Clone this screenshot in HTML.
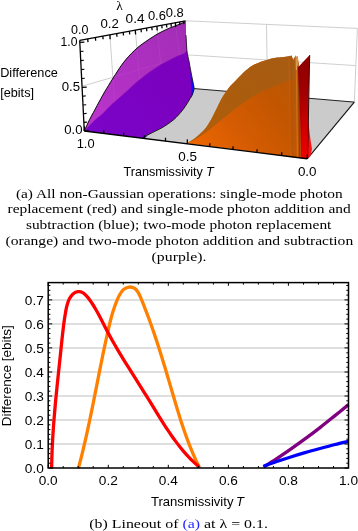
<!DOCTYPE html>
<html><head><meta charset="utf-8"><style>
html,body{margin:0;padding:0;background:#fff;}
body{width:358px;height:531px;overflow:hidden;font-family:"Liberation Sans",sans-serif;}
svg{display:block;will-change:transform;}
</style></head><body>
<svg width="358" height="531" viewBox="0 0 358 531">
<defs><linearGradient id="gOr" x1="190" y1="150" x2="300" y2="70" gradientUnits="userSpaceOnUse">
<stop offset="0" stop-color="#f06800"/><stop offset="0.35" stop-color="#d65c02"/><stop offset="0.7" stop-color="#c25600"/><stop offset="1" stop-color="#b85808"/></linearGradient><linearGradient id="gOb" x1="215" y1="125" x2="275" y2="60" gradientUnits="userSpaceOnUse">
<stop offset="0" stop-color="#ae5e0c"/><stop offset="0.5" stop-color="#aa5c0e"/><stop offset="1" stop-color="#a85c12"/></linearGradient><linearGradient id="gMag" x1="90" y1="120" x2="185" y2="30" gradientUnits="userSpaceOnUse">
<stop offset="0" stop-color="#ba34cc"/><stop offset="1" stop-color="#a32db6"/></linearGradient><linearGradient id="gVio" x1="90" y1="130" x2="190" y2="60" gradientUnits="userSpaceOnUse">
<stop offset="0" stop-color="#7a04c8"/><stop offset="1" stop-color="#7c00bc"/></linearGradient><linearGradient id="gRed" x1="0" y1="55" x2="0" y2="159" gradientUnits="userSpaceOnUse">
<stop offset="0" stop-color="#8c0000"/><stop offset="0.6" stop-color="#b00000"/><stop offset="1" stop-color="#d80000"/></linearGradient><linearGradient id="gRb" x1="0" y1="95" x2="0" y2="158" gradientUnits="userSpaceOnUse">
<stop offset="0" stop-color="#e00000" stop-opacity="0"/><stop offset="0.6" stop-color="#e00000" stop-opacity="0.7"/><stop offset="1" stop-color="#f00000" stop-opacity="0.95"/></linearGradient><clipPath id="cMag"><path d="M84.30,131.00 C84.72,130.08 85.92,127.42 86.80,125.50 C87.68,123.58 88.50,121.67 89.60,119.50 C90.70,117.33 92.13,114.85 93.40,112.50 C94.67,110.15 95.95,107.72 97.20,105.40 C98.45,103.08 99.65,100.87 100.90,98.60 C102.15,96.33 103.43,93.98 104.70,91.80 C105.97,89.62 107.32,87.45 108.50,85.50 C109.68,83.55 110.65,81.93 111.80,80.10 C112.95,78.27 114.17,76.42 115.40,74.50 C116.63,72.58 117.90,70.53 119.20,68.60 C120.50,66.67 121.60,64.97 123.20,62.90 C124.80,60.83 126.95,58.25 128.80,56.20 C130.65,54.15 132.45,52.33 134.30,50.60 C136.15,48.87 138.03,47.28 139.90,45.80 C141.77,44.32 143.48,43.10 145.50,41.70 C147.52,40.30 150.08,38.63 152.00,37.40 C153.92,36.17 154.77,35.55 157.00,34.30 C159.23,33.05 162.58,31.22 165.40,29.90 C168.22,28.58 171.35,27.43 173.90,26.40 C176.45,25.37 178.77,24.50 180.70,23.70 C182.63,22.90 184.70,21.95 185.50,21.60 L186.00,35.00 L187.00,51.00 C186.42,51.45 185.02,52.90 183.50,53.70 C181.98,54.50 179.98,54.87 177.90,55.80 C175.82,56.73 173.32,58.13 171.00,59.30 C168.68,60.47 166.33,61.52 164.00,62.80 C161.67,64.08 159.02,65.72 157.00,67.00 C154.98,68.28 153.92,69.10 151.90,70.50 C149.88,71.90 147.23,73.65 144.90,75.40 C142.57,77.15 140.22,79.03 137.90,81.00 C135.58,82.97 133.32,85.12 131.00,87.20 C128.68,89.28 126.33,91.40 124.00,93.50 C121.67,95.60 119.33,97.70 117.00,99.80 C114.67,101.90 112.37,103.83 110.00,106.10 C107.63,108.37 105.57,110.85 102.80,113.40 C100.03,115.95 96.48,118.47 93.40,121.40 C90.32,124.33 85.82,129.40 84.30,131.00 Z"/></clipPath></defs>
<rect width="358" height="531" fill="#fff"/>
<polygon points="84.3,131.0 307.2,158.8 354.3,102.1 194.3,88.6" fill="#cbcbcb"/>
<path d="M185.50,20.80 L357.40,28.40" stroke="#cfcfcf" stroke-width="1" fill="none"/>
<path d="M357.40,28.40 L354.30,102.10" stroke="#cfcfcf" stroke-width="1" fill="none"/>
<path d="M189.60,55.00 L355.90,65.60" stroke="#cfcfcf" stroke-width="1" fill="none"/>
<path d="M266.50,24.90 L267.60,95.50" stroke="#cfcfcf" stroke-width="1" fill="none"/>
<path d="M82.20,86.20 L189.60,55.00" stroke="#cfcfcf" stroke-width="1" fill="none"/>
<path d="M109.93,34.80 L115.73,118.89" stroke="#cfcfcf" stroke-width="1" fill="none"/>
<path d="M135.34,30.09 L142.15,108.70" stroke="#cfcfcf" stroke-width="1" fill="none"/>
<path d="M156.87,26.10 L164.54,100.07" stroke="#cfcfcf" stroke-width="1" fill="none"/>
<path d="M175.36,22.68 L183.76,92.66" stroke="#cfcfcf" stroke-width="1" fill="none"/>
<path d="M84.30,131.00 C84.72,130.08 85.92,127.42 86.80,125.50 C87.68,123.58 88.50,121.67 89.60,119.50 C90.70,117.33 92.13,114.85 93.40,112.50 C94.67,110.15 95.95,107.72 97.20,105.40 C98.45,103.08 99.65,100.87 100.90,98.60 C102.15,96.33 103.43,93.98 104.70,91.80 C105.97,89.62 107.32,87.45 108.50,85.50 C109.68,83.55 110.65,81.93 111.80,80.10 C112.95,78.27 114.17,76.42 115.40,74.50 C116.63,72.58 117.90,70.53 119.20,68.60 C120.50,66.67 121.60,64.97 123.20,62.90 C124.80,60.83 126.95,58.25 128.80,56.20 C130.65,54.15 132.45,52.33 134.30,50.60 C136.15,48.87 138.03,47.28 139.90,45.80 C141.77,44.32 143.48,43.10 145.50,41.70 C147.52,40.30 150.08,38.63 152.00,37.40 C153.92,36.17 154.77,35.55 157.00,34.30 C159.23,33.05 162.58,31.22 165.40,29.90 C168.22,28.58 171.35,27.43 173.90,26.40 C176.45,25.37 178.77,24.50 180.70,23.70 C182.63,22.90 184.70,21.95 185.50,21.60 L186.00,35.00 C186.17,37.67 186.50,46.67 187.00,51.00 C187.50,55.33 188.33,57.50 189.00,61.00 C189.67,64.50 190.37,68.67 191.00,72.00 C191.63,75.33 192.25,78.23 192.80,81.00 C193.35,83.77 194.05,87.33 194.30,88.60 C194.00,89.50 193.10,92.53 192.50,94.00 C191.90,95.47 191.52,95.95 190.70,97.40 C189.88,98.85 188.88,100.67 187.60,102.70 C186.32,104.73 184.53,107.55 183.00,109.60 C181.47,111.65 179.93,113.33 178.40,115.00 C176.87,116.67 175.60,118.07 173.80,119.60 C172.00,121.13 169.65,122.80 167.60,124.20 C165.55,125.60 163.53,126.85 161.50,128.00 C159.47,129.15 157.45,130.07 155.40,131.10 C153.35,132.13 151.00,133.28 149.20,134.20 C147.40,135.12 145.67,136.00 144.60,136.60 C143.53,137.20 143.10,137.60 142.80,137.80 L142.8,138.3 Z" fill="url(#gVio)"/>
<path d="M84.30,131.00 C84.72,130.08 85.92,127.42 86.80,125.50 C87.68,123.58 88.50,121.67 89.60,119.50 C90.70,117.33 92.13,114.85 93.40,112.50 C94.67,110.15 95.95,107.72 97.20,105.40 C98.45,103.08 99.65,100.87 100.90,98.60 C102.15,96.33 103.43,93.98 104.70,91.80 C105.97,89.62 107.32,87.45 108.50,85.50 C109.68,83.55 110.65,81.93 111.80,80.10 C112.95,78.27 114.17,76.42 115.40,74.50 C116.63,72.58 117.90,70.53 119.20,68.60 C120.50,66.67 121.60,64.97 123.20,62.90 C124.80,60.83 126.95,58.25 128.80,56.20 C130.65,54.15 132.45,52.33 134.30,50.60 C136.15,48.87 138.03,47.28 139.90,45.80 C141.77,44.32 143.48,43.10 145.50,41.70 C147.52,40.30 150.08,38.63 152.00,37.40 C153.92,36.17 154.77,35.55 157.00,34.30 C159.23,33.05 162.58,31.22 165.40,29.90 C168.22,28.58 171.35,27.43 173.90,26.40 C176.45,25.37 178.77,24.50 180.70,23.70 C182.63,22.90 184.70,21.95 185.50,21.60 L186.00,35.00 L187.00,51.00 C186.42,51.45 185.02,52.90 183.50,53.70 C181.98,54.50 179.98,54.87 177.90,55.80 C175.82,56.73 173.32,58.13 171.00,59.30 C168.68,60.47 166.33,61.52 164.00,62.80 C161.67,64.08 159.02,65.72 157.00,67.00 C154.98,68.28 153.92,69.10 151.90,70.50 C149.88,71.90 147.23,73.65 144.90,75.40 C142.57,77.15 140.22,79.03 137.90,81.00 C135.58,82.97 133.32,85.12 131.00,87.20 C128.68,89.28 126.33,91.40 124.00,93.50 C121.67,95.60 119.33,97.70 117.00,99.80 C114.67,101.90 112.37,103.83 110.00,106.10 C107.63,108.37 105.57,110.85 102.80,113.40 C100.03,115.95 96.48,118.47 93.40,121.40 C90.32,124.33 85.82,129.40 84.30,131.00 Z" fill="url(#gMag)"/>
<path d="M109.9,34.8 L115.7,118.9 M135.3,30.1 L142.1,108.7 M156.9,26.1 L164.5,100.1 M175.4,22.7 L183.8,92.7 M82.2,86.2 L189.6,55" stroke="#d070e0" stroke-width="0.8" fill="none" opacity="0.2" clip-path="url(#cMag)"/>
<path d="M84.30,131.00 C85.82,129.40 90.32,124.33 93.40,121.40 C96.48,118.47 100.03,115.95 102.80,113.40 C105.57,110.85 107.63,108.37 110.00,106.10 C112.37,103.83 114.67,101.90 117.00,99.80 C119.33,97.70 121.67,95.60 124.00,93.50 C126.33,91.40 128.68,89.28 131.00,87.20 C133.32,85.12 135.58,82.97 137.90,81.00 C140.22,79.03 142.57,77.15 144.90,75.40 C147.23,73.65 149.88,71.90 151.90,70.50 C153.92,69.10 154.98,68.28 157.00,67.00 C159.02,65.72 161.67,64.08 164.00,62.80 C166.33,61.52 168.68,60.47 171.00,59.30 C173.32,58.13 175.82,56.73 177.90,55.80 C179.98,54.87 181.98,54.50 183.50,53.70 C185.02,52.90 186.42,51.45 187.00,51.00" stroke="#9a18b4" stroke-width="0.7" fill="none" opacity="0.7"/>
<path d="M190.4,73 C192.4,80 193.8,85 194.3,88.6 C193.6,92 192.8,95 191.2,98 C191.6,93 191.4,89 191.1,85 C190.8,81 190.6,77 190.4,73 Z" fill="#1010ff"/>
<path d="M186.00,35.00 C186.17,37.67 186.50,46.67 187.00,51.00 C187.50,55.33 188.33,57.50 189.00,61.00 C189.67,64.50 190.37,68.67 191.00,72.00 C191.63,75.33 192.25,78.23 192.80,81.00 C193.35,83.77 194.05,87.33 194.30,88.60" stroke="#111" stroke-width="0.8" fill="none"/>
<path d="M142.5,138 L146.5,136" stroke="#1818ff" stroke-width="1.4" fill="none"/>
<path d="M84.30,131.00 C84.72,130.08 85.92,127.42 86.80,125.50 C87.68,123.58 88.50,121.67 89.60,119.50 C90.70,117.33 92.13,114.85 93.40,112.50 C94.67,110.15 95.95,107.72 97.20,105.40 C98.45,103.08 99.65,100.87 100.90,98.60 C102.15,96.33 103.43,93.98 104.70,91.80 C105.97,89.62 107.32,87.45 108.50,85.50 C109.68,83.55 110.65,81.93 111.80,80.10 C112.95,78.27 114.17,76.42 115.40,74.50 C116.63,72.58 117.90,70.53 119.20,68.60 C120.50,66.67 121.60,64.97 123.20,62.90 C124.80,60.83 126.95,58.25 128.80,56.20 C130.65,54.15 132.45,52.33 134.30,50.60 C136.15,48.87 138.03,47.28 139.90,45.80 C141.77,44.32 143.48,43.10 145.50,41.70 C147.52,40.30 150.08,38.63 152.00,37.40 C153.92,36.17 154.77,35.55 157.00,34.30 C159.23,33.05 162.58,31.22 165.40,29.90 C168.22,28.58 171.35,27.43 173.90,26.40 C176.45,25.37 178.77,24.50 180.70,23.70 C182.63,22.90 184.70,21.95 185.50,21.60" stroke="#111" stroke-width="1" fill="none"/>
<path d="M194.30,88.60 C194.00,89.50 193.10,92.53 192.50,94.00 C191.90,95.47 191.52,95.95 190.70,97.40 C189.88,98.85 188.88,100.67 187.60,102.70 C186.32,104.73 184.53,107.55 183.00,109.60 C181.47,111.65 179.93,113.33 178.40,115.00 C176.87,116.67 175.60,118.07 173.80,119.60 C172.00,121.13 169.65,122.80 167.60,124.20 C165.55,125.60 163.53,126.85 161.50,128.00 C159.47,129.15 157.45,130.07 155.40,131.10 C153.35,132.13 151.00,133.28 149.20,134.20 C147.40,135.12 145.67,136.00 144.60,136.60 C143.53,137.20 143.10,137.60 142.80,137.80" stroke="#111" stroke-width="0.9" fill="none"/>
<path d="M194.30,88.60 L354.30,102.10" stroke="#222" stroke-width="1" fill="none"/>
<path d="M307.20,158.80 L354.30,102.10" stroke="#111" stroke-width="1.1" fill="none"/>
<path d="M187.20,143.20 C188.53,142.33 192.73,139.85 195.20,138.00 C197.67,136.15 200.03,134.07 202.00,132.10 C203.97,130.13 205.32,128.60 207.00,126.20 C208.68,123.80 210.40,120.82 212.10,117.70 C213.80,114.58 215.65,110.60 217.20,107.50 C218.75,104.40 219.98,101.63 221.40,99.10 C222.82,96.57 224.13,94.57 225.70,92.30 C227.27,90.03 229.12,87.48 230.80,85.50 C232.48,83.52 234.12,82.10 235.80,80.40 C237.48,78.70 239.15,77.02 240.90,75.30 C242.65,73.58 244.35,71.73 246.30,70.10 C248.25,68.47 250.15,66.88 252.60,65.50 C255.05,64.12 258.22,62.85 261.00,61.80 C263.78,60.75 266.52,59.90 269.30,59.20 C272.08,58.50 275.25,57.98 277.70,57.60 C280.15,57.22 281.90,57.18 284.00,56.90 C286.10,56.62 289.25,56.07 290.30,55.90 L291.50,55.60 L292.60,58.50 L293.60,60.00 L294.80,57.00 L295.80,55.50 L296.60,57.50 L297.40,55.80 L298.00,58.00 L298.30,62.00 L299.00,64.00 L302,158.4 Z" fill="url(#gOr)"/>
<path d="M187.20,143.20 C188.53,142.33 192.73,139.85 195.20,138.00 C197.67,136.15 200.03,134.07 202.00,132.10 C203.97,130.13 205.32,128.60 207.00,126.20 C208.68,123.80 210.40,120.82 212.10,117.70 C213.80,114.58 215.65,110.60 217.20,107.50 C218.75,104.40 219.98,101.63 221.40,99.10 C222.82,96.57 224.13,94.57 225.70,92.30 C227.27,90.03 229.12,87.48 230.80,85.50 C232.48,83.52 234.12,82.10 235.80,80.40 C237.48,78.70 239.15,77.02 240.90,75.30 C242.65,73.58 244.35,71.73 246.30,70.10 C248.25,68.47 250.15,66.88 252.60,65.50 C255.05,64.12 258.22,62.85 261.00,61.80 C263.78,60.75 266.52,59.90 269.30,59.20 C272.08,58.50 275.25,57.98 277.70,57.60 C280.15,57.22 281.90,57.18 284.00,56.90 C286.10,56.62 289.25,56.07 290.30,55.90 L291.50,55.60 L292.60,58.50 L293.60,60.00 L294.80,57.00 L295.80,55.50 L296.60,57.50 L297.40,55.80 L298.00,58.00 L298.30,62.00 L299.00,64.00 L295.00,78.20 C293.13,78.88 288.00,80.62 283.80,82.30 C279.60,83.98 273.77,86.60 269.80,88.30 C265.83,90.00 264.65,89.88 260.00,92.50 C255.35,95.12 247.72,99.92 241.90,104.00 C236.08,108.08 230.68,112.58 225.10,117.00 C219.52,121.42 213.08,126.92 208.40,130.50 C203.72,134.08 200.53,136.38 197.00,138.50 C193.47,140.62 188.83,142.42 187.20,143.20 Z" fill="url(#gOb)"/>
<path d="M289,58 L290.2,157.5" stroke="#c46410" stroke-width="0.8" opacity="0.6"/>
<path d="M291.5,58 L292.7,157.5" stroke="#a85210" stroke-width="1.2" opacity="0.6"/>
<path d="M294,58 L295.2,157.5" stroke="#b05810" stroke-width="1.0" opacity="0.6"/>
<path d="M296.2,58 L297.4,157.5" stroke="#d88020" stroke-width="1.0" opacity="0.7"/>
<path d="M298.6,68 L299.8,157.5" stroke="#8a3a08" stroke-width="1.6" opacity="0.8"/>
<path d="M300.6,68 L301.8,157.5" stroke="#902000" stroke-width="1.4" opacity="0.7"/>
<path d="M296.1,56 L296.4,70 M297.6,56.3 L297.8,66" stroke="#f0c080" stroke-width="0.9" opacity="0.8"/>
<path d="M309.70,55.10 L297.80,67.50 L299.50,100.00 L301.50,157.90 L307.40,158.60 L308.40,112.00 L309.30,70.00 Z" fill="url(#gRed)"/>
<path d="M308.2,118 C309,128 310,138 312,149 L310.4,156 L307.6,158.6 Z" fill="#ff1010"/>
<path d="M309.7,55.1 L307.6,158.6" stroke="#200000" stroke-width="0.9"/>
<path d="M301.5,95 L308,95 L307.6,158.6 L302,158.2 Z" fill="url(#gRb)"/>
<path d="M79.70,40.40 L84.30,131.00" stroke="#000" stroke-width="1.3" fill="none"/>
<path d="M79.70,40.40 L185.50,20.80" stroke="#000" stroke-width="1.3" fill="none"/>
<path d="M84.30,131.00 L307.20,158.80" stroke="#000" stroke-width="1.4" fill="none"/>
<path d="M84.3,131.0 l4.6,-0.3" stroke="#000" stroke-width="1.1" fill="none"/>
<path d="M83.9,122.4 l3.2,-0.3" stroke="#000" stroke-width="1.1" fill="none"/>
<path d="M83.4,113.7 l3.2,-0.3" stroke="#000" stroke-width="1.1" fill="none"/>
<path d="M83.0,105.0 l3.2,-0.3" stroke="#000" stroke-width="1.1" fill="none"/>
<path d="M82.5,96.2 l3.2,-0.3" stroke="#000" stroke-width="1.1" fill="none"/>
<path d="M82.1,87.4 l4.6,-0.3" stroke="#000" stroke-width="1.1" fill="none"/>
<path d="M81.6,78.5 l3.2,-0.3" stroke="#000" stroke-width="1.1" fill="none"/>
<path d="M81.2,69.6 l3.2,-0.3" stroke="#000" stroke-width="1.1" fill="none"/>
<path d="M80.7,60.6 l3.2,-0.3" stroke="#000" stroke-width="1.1" fill="none"/>
<path d="M80.3,51.5 l3.2,-0.3" stroke="#000" stroke-width="1.1" fill="none"/>
<path d="M79.8,42.4 l4.6,-0.3" stroke="#000" stroke-width="1.1" fill="none"/>
<path d="M87.7,38.9 l0.3,3.2" stroke="#000" stroke-width="1.3" fill="none"/>
<path d="M95.4,37.5 l0.3,3.2" stroke="#000" stroke-width="1.3" fill="none"/>
<path d="M102.8,36.1 l0.3,3.2" stroke="#000" stroke-width="1.3" fill="none"/>
<path d="M109.9,34.8 l0.3,4.4" stroke="#000" stroke-width="1.3" fill="none"/>
<path d="M116.7,33.5 l0.3,3.2" stroke="#000" stroke-width="1.3" fill="none"/>
<path d="M123.2,32.3 l0.3,3.2" stroke="#000" stroke-width="1.3" fill="none"/>
<path d="M129.4,31.2 l0.3,3.2" stroke="#000" stroke-width="1.3" fill="none"/>
<path d="M135.3,30.1 l0.3,4.4" stroke="#000" stroke-width="1.3" fill="none"/>
<path d="M141.0,29.0 l0.3,3.2" stroke="#000" stroke-width="1.3" fill="none"/>
<path d="M146.5,28.0 l0.3,3.2" stroke="#000" stroke-width="1.3" fill="none"/>
<path d="M151.8,27.0 l0.3,3.2" stroke="#000" stroke-width="1.3" fill="none"/>
<path d="M156.9,26.1 l0.3,4.4" stroke="#000" stroke-width="1.3" fill="none"/>
<path d="M161.8,25.2 l0.3,3.2" stroke="#000" stroke-width="1.3" fill="none"/>
<path d="M166.5,24.3 l0.3,3.2" stroke="#000" stroke-width="1.3" fill="none"/>
<path d="M171.0,23.5 l0.3,3.2" stroke="#000" stroke-width="1.3" fill="none"/>
<path d="M175.4,22.7 l0.3,4.4" stroke="#000" stroke-width="1.3" fill="none"/>
<path d="M179.6,21.9 l0.3,3.2" stroke="#000" stroke-width="1.3" fill="none"/>
<path d="M183.7,21.1 l0.3,3.2" stroke="#000" stroke-width="1.3" fill="none"/>
<path d="M307.2,158.8 l0.2,-4.4" stroke="#000" stroke-width="1.25" fill="none"/>
<path d="M281.6,155.6 l0.2,-3.3" stroke="#000" stroke-width="1.25" fill="none"/>
<path d="M256.9,152.5 l0.2,-3.3" stroke="#000" stroke-width="1.25" fill="none"/>
<path d="M232.9,149.5 l0.2,-3.3" stroke="#000" stroke-width="1.25" fill="none"/>
<path d="M209.7,146.6 l0.2,-3.3" stroke="#000" stroke-width="1.25" fill="none"/>
<path d="M187.2,143.8 l0.2,-4.4" stroke="#000" stroke-width="1.25" fill="none"/>
<path d="M165.4,141.1 l0.2,-3.3" stroke="#000" stroke-width="1.25" fill="none"/>
<path d="M144.2,138.5 l0.2,-3.3" stroke="#000" stroke-width="1.25" fill="none"/>
<path d="M123.6,135.9 l0.2,-3.3" stroke="#000" stroke-width="1.25" fill="none"/>
<path d="M103.7,133.4 l0.2,-3.3" stroke="#000" stroke-width="1.25" fill="none"/>
<path d="M84.3,131.0 l0.2,-4.4" stroke="#000" stroke-width="1.25" fill="none"/>
<text x="0.2" y="76.8" font-size="12.4" font-family="Liberation Sans, sans-serif" text-anchor="start" textLength="57.6" lengthAdjust="spacingAndGlyphs">Difference</text>
<text x="0.2" y="97.4" font-size="12.4" font-family="Liberation Sans, sans-serif" text-anchor="start" textLength="33.8" lengthAdjust="spacingAndGlyphs">[ebits]</text>
<text x="60.5" y="46.0" font-size="12.2" font-family="Liberation Sans, sans-serif" text-anchor="start" textLength="16.9" lengthAdjust="spacingAndGlyphs">1.0</text>
<text x="61.7" y="91.2" font-size="12.2" font-family="Liberation Sans, sans-serif" text-anchor="start" textLength="18.4" lengthAdjust="spacingAndGlyphs">0.5</text>
<text x="64.2" y="134.2" font-size="12.2" font-family="Liberation Sans, sans-serif" text-anchor="start" textLength="18.3" lengthAdjust="spacingAndGlyphs">0.0</text>
<text x="71.1" y="33.8" font-size="12.2" font-family="Liberation Sans, sans-serif" text-anchor="start" textLength="17.4" lengthAdjust="spacingAndGlyphs">0.0</text>
<text x="100.4" y="28.1" font-size="12.2" font-family="Liberation Sans, sans-serif" text-anchor="start" textLength="18.4" lengthAdjust="spacingAndGlyphs">0.2</text>
<text x="125.6" y="23.3" font-size="12.2" font-family="Liberation Sans, sans-serif" text-anchor="start" textLength="19.0" lengthAdjust="spacingAndGlyphs">0.4</text>
<text x="147.9" y="19.9" font-size="12.2" font-family="Liberation Sans, sans-serif" text-anchor="start" textLength="18.0" lengthAdjust="spacingAndGlyphs">0.6</text>
<text x="165.8" y="16.6" font-size="12.2" font-family="Liberation Sans, sans-serif" text-anchor="start" textLength="18.0" lengthAdjust="spacingAndGlyphs">0.8</text>
<text x="116.3" y="9.6" font-size="13.4" font-family="Liberation Serif, serif" text-anchor="start">λ</text>
<text x="76.7" y="147.9" font-size="12.2" font-family="Liberation Sans, sans-serif" text-anchor="start" textLength="17.9" lengthAdjust="spacingAndGlyphs">1.0</text>
<text x="178.3" y="160.6" font-size="12.2" font-family="Liberation Sans, sans-serif" text-anchor="start" textLength="18.7" lengthAdjust="spacingAndGlyphs">0.5</text>
<text x="297.9" y="175.6" font-size="12.2" font-family="Liberation Sans, sans-serif" text-anchor="start" textLength="18.7" lengthAdjust="spacingAndGlyphs">0.0</text>
<text x="123.5" y="176.1" font-size="12.6" font-family="Liberation Sans, sans-serif" text-anchor="start" textLength="79.4" lengthAdjust="spacingAndGlyphs">Transmissivity</text>
<text x="205.9" y="176.1" font-size="12.6" font-family="Liberation Sans, sans-serif" text-anchor="start" font-style="italic">T</text>
<text x="15.9" y="198.1" font-size="12.3" font-family="Liberation Serif, serif" text-anchor="start" textLength="326.7" lengthAdjust="spacingAndGlyphs">(a) All non-Gaussian operations: single-mode photon</text>
<text x="7.5" y="213.1" font-size="12.3" font-family="Liberation Serif, serif" text-anchor="start" textLength="343.2" lengthAdjust="spacingAndGlyphs">replacement (red) and single-mode photon addition and</text>
<text x="25.9" y="229.0" font-size="12.3" font-family="Liberation Serif, serif" text-anchor="start" textLength="305.5" lengthAdjust="spacingAndGlyphs">subtraction (blue); two-mode photon replacement</text>
<text x="5.5" y="244.9" font-size="12.3" font-family="Liberation Serif, serif" text-anchor="start" textLength="347.7" lengthAdjust="spacingAndGlyphs">(orange) and two-mode photon addition and subtraction</text>
<text x="151.6" y="260.7" font-size="12.3" font-family="Liberation Serif, serif" text-anchor="start" textLength="54.8" lengthAdjust="spacingAndGlyphs">(purple).</text>
<path d="M48.2,444.0 H348.5" stroke="#d4d4d4" stroke-width="1.5"/>
<path d="M48.2,420.0 H348.5" stroke="#d4d4d4" stroke-width="1.5"/>
<path d="M48.2,396.0 H348.5" stroke="#d4d4d4" stroke-width="1.5"/>
<path d="M48.2,372.0 H348.5" stroke="#d4d4d4" stroke-width="1.5"/>
<path d="M48.2,347.9 H348.5" stroke="#d4d4d4" stroke-width="1.5"/>
<path d="M48.2,323.9 H348.5" stroke="#d4d4d4" stroke-width="1.5"/>
<path d="M48.2,299.9 H348.5" stroke="#d4d4d4" stroke-width="1.5"/>
<path d="M78.40,468.50 C78.47,468.20 78.48,468.03 78.83,466.68 C79.17,465.34 79.93,462.50 80.47,460.41 C81.00,458.31 81.53,456.21 82.05,454.11 C82.57,452.00 83.08,449.89 83.58,447.78 C84.08,445.66 84.58,443.55 85.06,441.43 C85.55,439.31 86.03,437.18 86.51,435.06 C86.98,432.93 87.45,430.80 87.91,428.67 C88.37,426.54 88.83,424.41 89.28,422.27 C89.73,420.14 90.18,418.00 90.62,415.86 C91.07,413.72 91.50,411.58 91.94,409.44 C92.38,407.30 92.81,405.16 93.24,403.01 C93.67,400.87 94.10,398.73 94.52,396.58 C94.95,394.44 95.37,392.29 95.80,390.15 C96.22,388.01 96.65,385.86 97.07,383.72 C97.49,381.58 97.91,379.44 98.34,377.30 C98.76,375.16 99.19,373.02 99.61,370.88 C100.04,368.74 100.47,366.60 100.90,364.47 C101.33,362.33 101.76,360.20 102.19,358.07 C102.63,355.94 103.07,353.81 103.51,351.69 C103.95,349.57 104.40,347.44 104.85,345.32 C105.30,343.21 105.75,341.09 106.21,338.98 C106.68,336.87 107.14,334.76 107.61,332.66 C108.09,330.56 108.56,328.46 109.05,326.36 C109.55,324.27 110.05,322.17 110.59,320.08 C111.13,317.98 111.69,315.89 112.31,313.79 C112.94,311.69 113.59,309.59 114.33,307.47 C115.06,305.36 115.84,303.23 116.72,301.11 C117.61,298.99 118.50,296.69 119.62,294.75 C120.75,292.81 121.94,290.76 123.49,289.47 C125.03,288.19 127.06,287.25 128.90,287.05 C130.75,286.86 132.97,287.34 134.56,288.29 C136.14,289.24 137.33,291.00 138.43,292.76 C139.54,294.51 140.31,296.77 141.19,298.82 C142.08,300.87 142.90,302.99 143.72,305.07 C144.55,307.15 145.36,309.23 146.15,311.31 C146.95,313.38 147.72,315.45 148.49,317.53 C149.26,319.60 150.01,321.67 150.75,323.73 C151.49,325.80 152.21,327.87 152.93,329.93 C153.64,332.00 154.34,334.06 155.04,336.13 C155.73,338.19 156.41,340.26 157.09,342.32 C157.76,344.38 158.43,346.44 159.09,348.51 C159.74,350.57 160.39,352.63 161.04,354.70 C161.68,356.76 162.32,358.83 162.95,360.89 C163.58,362.96 164.21,365.03 164.83,367.10 C165.46,369.17 166.08,371.24 166.69,373.31 C167.31,375.38 167.92,377.46 168.54,379.53 C169.15,381.61 169.76,383.69 170.37,385.77 C170.98,387.86 171.59,389.94 172.20,392.03 C172.82,394.12 173.43,396.21 174.04,398.30 C174.66,400.39 175.28,402.49 175.91,404.58 C176.53,406.68 177.16,408.77 177.80,410.86 C178.44,412.95 179.09,415.04 179.74,417.13 C180.40,419.21 181.07,421.30 181.75,423.37 C182.43,425.45 183.12,427.52 183.82,429.59 C184.53,431.65 185.25,433.71 185.98,435.76 C186.72,437.81 187.47,439.86 188.24,441.89 C189.01,443.92 189.80,445.95 190.61,447.96 C191.42,449.97 192.25,451.97 193.11,453.95 C193.96,455.94 194.84,457.91 195.74,459.87 C196.64,461.83 197.95,464.38 198.53,465.70 C199.10,467.02 199.09,467.45 199.20,467.80" stroke="#ff8000" stroke-width="3.3" fill="none" stroke-linejoin="round"/>
<path d="M51.50,468.50 C51.53,468.22 51.62,468.21 51.66,466.83 C51.71,465.44 51.73,462.42 51.79,460.21 C51.84,458.00 51.91,455.78 51.99,453.55 C52.07,451.33 52.16,449.10 52.27,446.87 C52.37,444.64 52.48,442.41 52.61,440.17 C52.73,437.93 52.87,435.69 53.01,433.44 C53.16,431.20 53.31,428.95 53.47,426.70 C53.63,424.46 53.80,422.21 53.98,419.96 C54.16,417.71 54.34,415.46 54.54,413.20 C54.73,410.95 54.93,408.70 55.13,406.45 C55.33,404.20 55.54,401.95 55.75,399.71 C55.97,397.46 56.19,395.21 56.41,392.97 C56.63,390.73 56.85,388.49 57.08,386.25 C57.31,384.01 57.54,381.78 57.77,379.55 C58.00,377.32 58.24,375.09 58.47,372.87 C58.71,370.65 58.94,368.44 59.18,366.23 C59.41,364.02 59.65,361.81 59.88,359.62 C60.11,357.42 60.35,355.23 60.58,353.04 C60.81,350.86 61.04,348.69 61.26,346.52 C61.49,344.35 61.71,342.20 61.93,340.03 C62.16,337.86 62.39,335.71 62.64,333.52 C62.88,331.33 63.14,329.13 63.42,326.89 C63.70,324.65 64.00,322.39 64.34,320.06 C64.68,317.74 65.03,315.35 65.46,312.94 C65.89,310.54 66.29,307.97 66.92,305.65 C67.56,303.33 68.24,300.95 69.26,299.02 C70.27,297.08 71.56,295.25 73.02,294.02 C74.47,292.80 76.28,291.85 77.96,291.66 C79.64,291.46 81.46,291.91 83.10,292.87 C84.74,293.82 86.32,295.65 87.80,297.38 C89.28,299.12 90.67,301.30 91.99,303.28 C93.30,305.26 94.51,307.28 95.68,309.28 C96.86,311.28 97.95,313.28 99.02,315.28 C100.10,317.28 101.12,319.27 102.14,321.26 C103.17,323.25 104.16,325.24 105.18,327.22 C106.20,329.19 107.22,331.16 108.27,333.12 C109.32,335.08 110.39,337.03 111.47,338.98 C112.55,340.92 113.66,342.86 114.77,344.79 C115.88,346.72 117.01,348.64 118.15,350.56 C119.29,352.48 120.45,354.39 121.61,356.31 C122.77,358.22 123.95,360.12 125.12,362.03 C126.30,363.93 127.49,365.83 128.68,367.73 C129.87,369.63 131.07,371.53 132.27,373.42 C133.46,375.32 134.67,377.22 135.87,379.11 C137.07,381.01 138.27,382.91 139.47,384.81 C140.67,386.71 141.87,388.61 143.06,390.51 C144.25,392.41 145.44,394.32 146.62,396.23 C147.80,398.14 148.98,400.06 150.15,401.97 C151.32,403.89 152.48,405.81 153.65,407.72 C154.82,409.64 155.99,411.55 157.16,413.46 C158.34,415.37 159.51,417.28 160.70,419.17 C161.89,421.07 163.09,422.96 164.30,424.84 C165.51,426.72 166.74,428.59 167.98,430.44 C169.23,432.30 170.49,434.14 171.77,435.96 C173.06,437.79 174.36,439.60 175.70,441.38 C177.03,443.17 178.39,444.94 179.79,446.68 C181.18,448.42 182.60,450.15 184.06,451.84 C185.52,453.54 187.01,455.21 188.55,456.85 C190.09,458.49 191.66,460.10 193.28,461.68 C194.90,463.26 197.38,465.29 198.27,466.31 C199.16,467.34 198.55,467.55 198.60,467.80" stroke="#ff0000" stroke-width="3.3" fill="none" stroke-linejoin="round"/>
<path d="M263.50,467.00 C265.58,465.68 271.58,462.00 276.00,459.10 C280.42,456.20 285.17,452.97 290.00,449.60 C294.83,446.23 300.00,442.57 305.00,438.90 C310.00,435.23 315.00,431.48 320.00,427.60 C325.00,423.72 330.25,419.43 335.00,415.60 C339.75,411.77 346.25,406.43 348.50,404.60" stroke="#800080" stroke-width="3.3" fill="none"/>
<path d="M263.50,466.40 C265.58,465.63 271.58,463.33 276.00,461.80 C280.42,460.27 285.17,458.72 290.00,457.20 C294.83,455.68 300.00,454.15 305.00,452.70 C310.00,451.25 315.00,449.87 320.00,448.50 C325.00,447.13 330.25,445.70 335.00,444.50 C339.75,443.30 346.25,441.83 348.50,441.30" stroke="#0000ff" stroke-width="3.3" fill="none"/>
<rect x="48.2" y="282.6" width="300.3" height="185.4" fill="none" stroke="#000" stroke-width="1.5"/>
<path d="M48.2,468.0 v-3.2 M48.2,282.6 v3.2" stroke="#000" stroke-width="1"/>
<path d="M63.2,468.0 v-2.0 M63.2,282.6 v2.0" stroke="#000" stroke-width="1"/>
<path d="M78.2,468.0 v-2.0 M78.2,282.6 v2.0" stroke="#000" stroke-width="1"/>
<path d="M93.2,468.0 v-2.0 M93.2,282.6 v2.0" stroke="#000" stroke-width="1"/>
<path d="M108.3,468.0 v-3.2 M108.3,282.6 v3.2" stroke="#000" stroke-width="1"/>
<path d="M123.3,468.0 v-2.0 M123.3,282.6 v2.0" stroke="#000" stroke-width="1"/>
<path d="M138.3,468.0 v-2.0 M138.3,282.6 v2.0" stroke="#000" stroke-width="1"/>
<path d="M153.3,468.0 v-2.0 M153.3,282.6 v2.0" stroke="#000" stroke-width="1"/>
<path d="M168.3,468.0 v-3.2 M168.3,282.6 v3.2" stroke="#000" stroke-width="1"/>
<path d="M183.3,468.0 v-2.0 M183.3,282.6 v2.0" stroke="#000" stroke-width="1"/>
<path d="M198.4,468.0 v-2.0 M198.4,282.6 v2.0" stroke="#000" stroke-width="1"/>
<path d="M213.4,468.0 v-2.0 M213.4,282.6 v2.0" stroke="#000" stroke-width="1"/>
<path d="M228.4,468.0 v-3.2 M228.4,282.6 v3.2" stroke="#000" stroke-width="1"/>
<path d="M243.4,468.0 v-2.0 M243.4,282.6 v2.0" stroke="#000" stroke-width="1"/>
<path d="M258.4,468.0 v-2.0 M258.4,282.6 v2.0" stroke="#000" stroke-width="1"/>
<path d="M273.4,468.0 v-2.0 M273.4,282.6 v2.0" stroke="#000" stroke-width="1"/>
<path d="M288.4,468.0 v-3.2 M288.4,282.6 v3.2" stroke="#000" stroke-width="1"/>
<path d="M303.5,468.0 v-2.0 M303.5,282.6 v2.0" stroke="#000" stroke-width="1"/>
<path d="M318.5,468.0 v-2.0 M318.5,282.6 v2.0" stroke="#000" stroke-width="1"/>
<path d="M333.5,468.0 v-2.0 M333.5,282.6 v2.0" stroke="#000" stroke-width="1"/>
<path d="M348.5,468.0 v-3.2 M348.5,282.6 v3.2" stroke="#000" stroke-width="1"/>
<path d="M48.2,468.0 h4.0 M348.5,468.0 h-4.0" stroke="#000" stroke-width="1"/>
<path d="M48.2,463.2 h2.2 M348.5,463.2 h-2.2" stroke="#000" stroke-width="1"/>
<path d="M48.2,458.4 h2.2 M348.5,458.4 h-2.2" stroke="#000" stroke-width="1"/>
<path d="M48.2,453.6 h2.2 M348.5,453.6 h-2.2" stroke="#000" stroke-width="1"/>
<path d="M48.2,448.8 h2.2 M348.5,448.8 h-2.2" stroke="#000" stroke-width="1"/>
<path d="M48.2,444.0 h4.0 M348.5,444.0 h-4.0" stroke="#000" stroke-width="1"/>
<path d="M48.2,439.2 h2.2 M348.5,439.2 h-2.2" stroke="#000" stroke-width="1"/>
<path d="M48.2,434.4 h2.2 M348.5,434.4 h-2.2" stroke="#000" stroke-width="1"/>
<path d="M48.2,429.6 h2.2 M348.5,429.6 h-2.2" stroke="#000" stroke-width="1"/>
<path d="M48.2,424.8 h2.2 M348.5,424.8 h-2.2" stroke="#000" stroke-width="1"/>
<path d="M48.2,420.0 h4.0 M348.5,420.0 h-4.0" stroke="#000" stroke-width="1"/>
<path d="M48.2,415.2 h2.2 M348.5,415.2 h-2.2" stroke="#000" stroke-width="1"/>
<path d="M48.2,410.4 h2.2 M348.5,410.4 h-2.2" stroke="#000" stroke-width="1"/>
<path d="M48.2,405.6 h2.2 M348.5,405.6 h-2.2" stroke="#000" stroke-width="1"/>
<path d="M48.2,400.8 h2.2 M348.5,400.8 h-2.2" stroke="#000" stroke-width="1"/>
<path d="M48.2,396.0 h4.0 M348.5,396.0 h-4.0" stroke="#000" stroke-width="1"/>
<path d="M48.2,391.2 h2.2 M348.5,391.2 h-2.2" stroke="#000" stroke-width="1"/>
<path d="M48.2,386.4 h2.2 M348.5,386.4 h-2.2" stroke="#000" stroke-width="1"/>
<path d="M48.2,381.6 h2.2 M348.5,381.6 h-2.2" stroke="#000" stroke-width="1"/>
<path d="M48.2,376.8 h2.2 M348.5,376.8 h-2.2" stroke="#000" stroke-width="1"/>
<path d="M48.2,372.0 h4.0 M348.5,372.0 h-4.0" stroke="#000" stroke-width="1"/>
<path d="M48.2,367.2 h2.2 M348.5,367.2 h-2.2" stroke="#000" stroke-width="1"/>
<path d="M48.2,362.4 h2.2 M348.5,362.4 h-2.2" stroke="#000" stroke-width="1"/>
<path d="M48.2,357.6 h2.2 M348.5,357.6 h-2.2" stroke="#000" stroke-width="1"/>
<path d="M48.2,352.8 h2.2 M348.5,352.8 h-2.2" stroke="#000" stroke-width="1"/>
<path d="M48.2,347.9 h4.0 M348.5,347.9 h-4.0" stroke="#000" stroke-width="1"/>
<path d="M48.2,343.1 h2.2 M348.5,343.1 h-2.2" stroke="#000" stroke-width="1"/>
<path d="M48.2,338.3 h2.2 M348.5,338.3 h-2.2" stroke="#000" stroke-width="1"/>
<path d="M48.2,333.5 h2.2 M348.5,333.5 h-2.2" stroke="#000" stroke-width="1"/>
<path d="M48.2,328.7 h2.2 M348.5,328.7 h-2.2" stroke="#000" stroke-width="1"/>
<path d="M48.2,323.9 h4.0 M348.5,323.9 h-4.0" stroke="#000" stroke-width="1"/>
<path d="M48.2,319.1 h2.2 M348.5,319.1 h-2.2" stroke="#000" stroke-width="1"/>
<path d="M48.2,314.3 h2.2 M348.5,314.3 h-2.2" stroke="#000" stroke-width="1"/>
<path d="M48.2,309.5 h2.2 M348.5,309.5 h-2.2" stroke="#000" stroke-width="1"/>
<path d="M48.2,304.7 h2.2 M348.5,304.7 h-2.2" stroke="#000" stroke-width="1"/>
<path d="M48.2,299.9 h4.0 M348.5,299.9 h-4.0" stroke="#000" stroke-width="1"/>
<path d="M48.2,295.1 h2.2 M348.5,295.1 h-2.2" stroke="#000" stroke-width="1"/>
<path d="M48.2,290.3 h2.2 M348.5,290.3 h-2.2" stroke="#000" stroke-width="1"/>
<path d="M48.2,285.5 h2.2 M348.5,285.5 h-2.2" stroke="#000" stroke-width="1"/>
<text x="43.8" y="472.9" font-size="13" font-family="Liberation Sans, sans-serif" text-anchor="end" textLength="19.0" lengthAdjust="spacingAndGlyphs">0.0</text>
<text x="43.8" y="448.9" font-size="13" font-family="Liberation Sans, sans-serif" text-anchor="end" textLength="19.0" lengthAdjust="spacingAndGlyphs">0.1</text>
<text x="43.8" y="424.9" font-size="13" font-family="Liberation Sans, sans-serif" text-anchor="end" textLength="19.0" lengthAdjust="spacingAndGlyphs">0.2</text>
<text x="43.8" y="400.9" font-size="13" font-family="Liberation Sans, sans-serif" text-anchor="end" textLength="19.0" lengthAdjust="spacingAndGlyphs">0.3</text>
<text x="43.8" y="376.9" font-size="13" font-family="Liberation Sans, sans-serif" text-anchor="end" textLength="19.0" lengthAdjust="spacingAndGlyphs">0.4</text>
<text x="43.8" y="352.8" font-size="13" font-family="Liberation Sans, sans-serif" text-anchor="end" textLength="19.0" lengthAdjust="spacingAndGlyphs">0.5</text>
<text x="43.8" y="328.8" font-size="13" font-family="Liberation Sans, sans-serif" text-anchor="end" textLength="19.0" lengthAdjust="spacingAndGlyphs">0.6</text>
<text x="43.8" y="304.8" font-size="13" font-family="Liberation Sans, sans-serif" text-anchor="end" textLength="19.0" lengthAdjust="spacingAndGlyphs">0.7</text>
<text x="48.2" y="484.9" font-size="13" font-family="Liberation Sans, sans-serif" text-anchor="middle" textLength="19.0" lengthAdjust="spacingAndGlyphs">0.0</text>
<text x="108.3" y="484.9" font-size="13" font-family="Liberation Sans, sans-serif" text-anchor="middle" textLength="19.0" lengthAdjust="spacingAndGlyphs">0.2</text>
<text x="168.3" y="484.9" font-size="13" font-family="Liberation Sans, sans-serif" text-anchor="middle" textLength="19.0" lengthAdjust="spacingAndGlyphs">0.4</text>
<text x="228.4" y="484.9" font-size="13" font-family="Liberation Sans, sans-serif" text-anchor="middle" textLength="19.0" lengthAdjust="spacingAndGlyphs">0.6</text>
<text x="288.4" y="484.9" font-size="13" font-family="Liberation Sans, sans-serif" text-anchor="middle" textLength="19.0" lengthAdjust="spacingAndGlyphs">0.8</text>
<text x="348.5" y="484.9" font-size="13" font-family="Liberation Sans, sans-serif" text-anchor="middle" textLength="19.0" lengthAdjust="spacingAndGlyphs">1.0</text>
<text x="150.9" y="505.9" font-size="13.1" font-family="Liberation Sans, sans-serif" text-anchor="start" textLength="82.6" lengthAdjust="spacingAndGlyphs">Transmissivity</text>
<text x="236" y="505.9" font-size="13.1" font-family="Liberation Sans, sans-serif" text-anchor="start" font-style="italic">T</text>
<text transform="translate(11.4,426.2) rotate(-90)" font-size="13" font-family="Liberation Sans, sans-serif" textLength="101" lengthAdjust="spacingAndGlyphs">Difference [ebits]</text>
<text x="89.3" y="528.1" font-size="12.3" font-family="Liberation Serif, serif" textLength="178.6" lengthAdjust="spacingAndGlyphs">(b) Lineout of <tspan fill="#2323ff">(a)</tspan> at λ = 0.1.</text>
</svg>
</body></html>
